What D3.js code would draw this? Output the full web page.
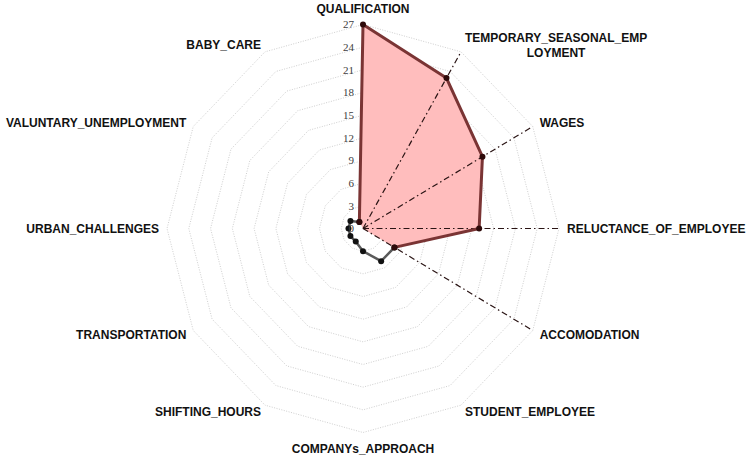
<!DOCTYPE html>
<html>
<head>
<meta charset="utf-8">
<script src="https://cdn.jsdelivr.net/npm/d3@7"></script>
<style>
  body { margin: 0; background: #fff; }
  svg { display: block; }
</style>
</head>
<body>
<div id="chart"></div>
<script>
// axis names, clockwise from the top
var categories = ["QUALIFICATION", "TEMPORARY_SEASONAL_EMPLOYMENT", "WAGES", "RELUCTANCE_OF_EMPLOYEE",
    "ACCOMODATION", "STUDENT_EMPLOYEE", "COMPANYs_APPROACH", "SHIFTING_HOURS",
    "TRANSPORTATION", "URBAN_CHALLENGES", "VALUNTARY_UNEMPLOYMENT", "BABY_CARE"];

// red filled series
var filledValues = [27, 23, 19, 16, 5, 0, 0, 0, 0, 0, 0, 1];
// grey line series (null = no point)
var lineValues = [null, null, null, null, 5, 5, 3, 2, 2, 2, 2, 1];
// axes drawn with a dash-dot ray
var rayAxes = ["TEMPORARY_SEASONAL_EMPLOYMENT", "WAGES", "RELUCTANCE_OF_EMPLOYEE", "ACCOMODATION"];
var ticks = [0, 3, 6, 9, 12, 15, 18, 21, 24, 27];

var width = 750, height = 456,
    cx = 363, cy = 228.5;

var svg = d3.select("#chart")
    .append("svg")
    .attr("width", width)
    .attr("height", height);

// plot area is slightly taller than wide
var rx = d3.scaleLinear().domain([0, 27]).range([0, 196]);
var ry = d3.scaleLinear().domain([0, 27]).range([0, 204]);
var angle = d3.scaleLinear().domain([0, categories.length]).range([0, 2 * Math.PI]);

function px(i, v) { return cx + rx(v) * Math.sin(angle(i)); }
function py(i, v) { return cy - ry(v) * Math.cos(angle(i)); }

var line = d3.line()
    .x(function(d) { return px(d.i, d.v); })
    .y(function(d) { return py(d.i, d.v); });

// grid rings
ticks.slice(1).forEach(function(t) {
    var ring = categories.map(function(c, i) { return {i: i, v: t}; });
    svg.append("path")
        .attr("d", line(ring) + "Z")
        .attr("fill", "none")
        .attr("stroke", "#cfcfcf")
        .attr("stroke-width", 1)
        .attr("stroke-dasharray", "1,1.5");
});

// filled area
var filled = filledValues.map(function(v, i) { return {i: i, v: v}; });
svg.append("path")
    .attr("d", line(filled) + "Z")
    .attr("fill", "#ffbdbd")
    .attr("stroke", "none");

// dash-dot rays
rayAxes.forEach(function(name) {
    var i = categories.indexOf(name);
    svg.append("line")
        .attr("x1", cx).attr("y1", cy)
        .attr("x2", px(i, 27)).attr("y2", py(i, 27))
        .attr("stroke", "#2a1414")
        .attr("stroke-width", 1.2)
        .attr("stroke-dasharray", "6,3,1.5,3");
});

// border of the filled series, starting at BABY_CARE so the non-zero run is continuous
var n = categories.length;
var border = [filled[n - 1]].concat(filled.slice(0, n - 1)).filter(function(d) { return d.v > 0; });
svg.append("path")
    .attr("d", line(border))
    .attr("fill", "none")
    .attr("stroke", "#7a3434")
    .attr("stroke-width", 3)
    .attr("stroke-linejoin", "round");

// grey line series
var greyPts = lineValues.map(function(v, i) { return {i: i, v: v}; })
    .filter(function(d) { return d.v !== null; });
svg.append("path")
    .attr("d", line(greyPts))
    .attr("fill", "none")
    .attr("stroke", "#5a5a5a")
    .attr("stroke-width", 2.5)
    .attr("stroke-linejoin", "round");

svg.selectAll("circle.grey")
    .data(greyPts)
    .enter()
    .append("circle")
    .attr("class", "grey")
    .attr("cx", function(d) { return px(d.i, d.v); })
    .attr("cy", function(d) { return py(d.i, d.v); })
    .attr("r", 3)
    .attr("fill", "#111");

svg.selectAll("circle.red")
    .data(border)
    .enter()
    .append("circle")
    .attr("class", "red")
    .attr("cx", function(d) { return px(d.i, d.v); })
    .attr("cy", function(d) { return py(d.i, d.v); })
    .attr("r", 3)
    .attr("fill", "#2e0a0a");

// tick labels along the top axis
svg.selectAll("text.tick")
    .data(ticks)
    .enter()
    .append("text")
    .attr("class", "tick")
    .attr("x", cx - 9)
    .attr("y", function(d) { return py(0, d); })
    .attr("dy", "0.35em")
    .attr("text-anchor", "end")
    .attr("font-family", "'Liberation Serif', serif")
    .attr("font-size", 11)
    .attr("fill", "#404040")
    .text(function(d) { return d; });

// category labels
categories.forEach(function(name, i) {
    var a = angle(i),
        s = Math.sin(a), c = Math.cos(a),
        off = Math.abs(s) < 0.01 ? 16 : 8,
        x = px(i, 27) + off * s,
        y = py(i, 27) - off * c,
        anchor = s > 0.01 ? "start" : (s < -0.01 ? "end" : "middle");

    var lines = name.length > 24 ? [name.slice(0, 22), name.slice(22)] : [name];

    var t = svg.append("text")
        .attr("font-family", "'Liberation Sans', Arial, sans-serif")
        .attr("font-weight", "bold")
        .attr("font-size", 12)
        .attr("fill", "#111");

    if (lines.length === 1) {
        t.attr("x", x).attr("y", y).attr("dy", "0.35em")
            .attr("text-anchor", anchor)
            .text(name);
    } else {
        t.attr("text-anchor", "middle");
        var spans = lines.map(function(l, k) {
            return t.append("tspan")
                .attr("y", y + (k - (lines.length - 1) / 2) * 15)
                .attr("dy", "0.35em")
                .text(l);
        });
        var w = d3.max(spans, function(sp) { return sp.node().getComputedTextLength(); });
        var mid = anchor === "start" ? x + w / 2 : (anchor === "end" ? x - w / 2 : x);
        spans.forEach(function(sp) { sp.attr("x", mid); });
    }
});
</script>
</body>
</html>
